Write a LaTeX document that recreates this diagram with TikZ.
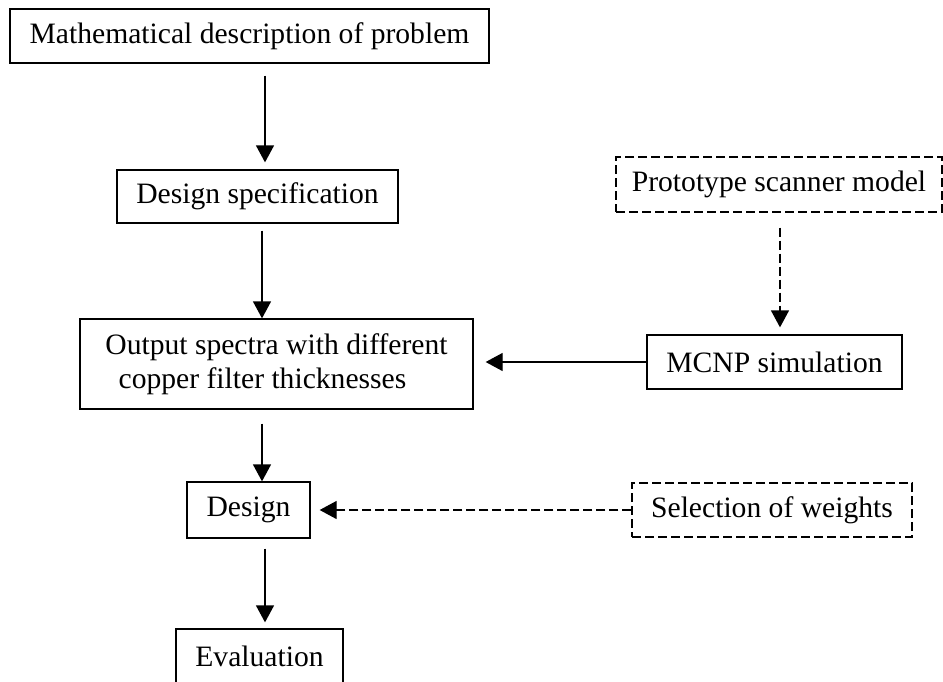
\documentclass[tikz,border=0pt]{standalone}
\usepackage{fontspec}
\setmainfont{Liberation Serif}
\usetikzlibrary{arrows.meta}
\begin{document}
\begin{tikzpicture}[x=0.5pt,y=-0.5pt,
    font=\fontsize{14.8}{17}\selectfont,
    blocco/.style={draw,line width=0.65pt,inner sep=0pt,align=center},
    tratteggio/.style={dash pattern=on 4.5pt off 2pt},
    freccia/.style={line width=0.65pt,-{Triangle[length=8.5pt,width=9pt]}}]

  \useasboundingbox (0,0) rectangle (943,681);

  % ---- colonna principale --------------------------------------------------
  \node[blocco,minimum width=239.5pt,minimum height=27pt] (mat) at (249.5,36)
        {Mathematical description of problem};
  \node[blocco,minimum width=140.5pt,minimum height=26.5pt] (spec) at (257.5,196.5)
        {Design specification};
  \node[blocco,minimum width=196.5pt,minimum height=45pt] (out) at (276.5,364)
        {Output spectra with different\\copper filter thicknesses\hspace*{14pt}};
  \node[blocco,minimum width=61.5pt,minimum height=28pt] (design) at (248.5,510)
        {Design};
  \node[blocco,minimum width=83.5pt,minimum height=27pt] (eval) at (259.5,656)
        {Evaluation};

  % ---- blocchi a destra ----------------------------------------------------
  \node[blocco,tratteggio,minimum width=163pt,minimum height=27.5pt] (proto) at (779,184.5)
        {Prototype scanner model};
  \node[blocco,minimum width=127.5pt,minimum height=27pt] (mcnp) at (774.5,362)
        {MCNP simulation};
  \node[blocco,tratteggio,minimum width=140pt,minimum height=27pt] (sel) at (772,510)
        {Selection of weights};

  % ---- frecce verticali ----------------------------------------------------
  \draw[freccia,shorten <=6pt,shorten >=3.5pt] (mat.south -| 265,0) -- (spec.north -| 265,0);
  \draw[freccia,shorten <=3.5pt] (spec.south -| 262,0) -- (out.north -| 262,0);
  \draw[freccia,shorten <=7pt] (out.south -| 262,0) -- (design.north -| 262,0);
  \draw[freccia,shorten <=5pt,shorten >=3pt] (design.south -| 265,0) -- (eval.north -| 265,0);
  \draw[freccia,tratteggio,shorten <=7.5pt,shorten >=3.5pt] (proto.south -| 780,0) -- (mcnp.north -| 780,0);

  % ---- frecce orizzontali --------------------------------------------------
  \draw[freccia,shorten >=6pt] (mcnp.west) -- (mcnp.west -| out.east);
  \draw[freccia,tratteggio,shorten >=4.5pt] (sel.west) -- (sel.west -| design.east);

\end{tikzpicture}
\end{document}
